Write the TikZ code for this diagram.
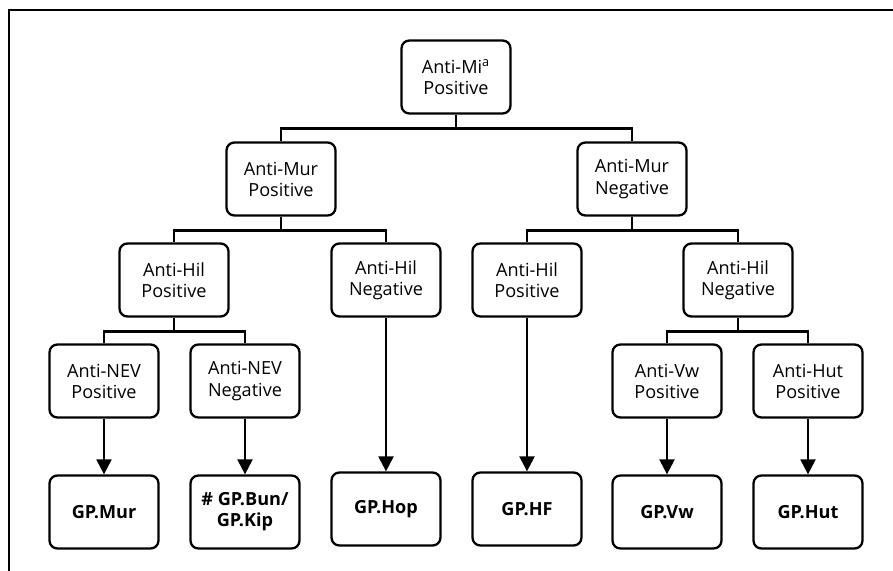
\documentclass[tikz,border=0pt]{standalone}
\usepackage{fontspec}
\setmainfont{Open Sans}
\usetikzlibrary{arrows.meta}

\tikzset{
  testbox/.style={draw, line width=1.3pt, rounded corners=4.5pt, align=center,
    minimum width=2.18cm, minimum height=1.46cm, inner sep=2pt,
    font=\fontsize{10.3}{12}\selectfont},
  gpbox/.style={testbox, font=\fontsize{10.3}{12}\selectfont\bfseries},
  link/.style={line width=1.3pt},
  arrow/.style={line width=1.3pt, -{Triangle[width=8.5pt,length=8.5pt]}}
}

\begin{document}
\begin{tikzpicture}[x=0.02cm,y=-0.02cm]

  \useasboundingbox (0,0) rectangle (893,571);
  \draw[line width=0.9pt] (893,10) -- (9,10) -- (9,571);

  \node[testbox] (root) at (456,77) {Anti-Mi\textsuperscript{a}\\Positive};

  \node[testbox] (murpos) at (281,179) {Anti-Mur\\Positive};
  \node[testbox] (murneg) at (632,179) {Anti-Mur\\Negative};

  \node[testbox] (hilposa) at (174,280) {Anti-Hil\\Positive};
  \node[testbox] (hilnega) at (386,280) {Anti-Hil\\Negative};
  \node[testbox] (hilposb) at (527,280) {Anti-Hil\\Positive};
  \node[testbox] (hilnegb) at (738,280) {Anti-Hil\\Negative};

  \node[testbox] (nevpos) at (104,381) {Anti-NEV\\Positive};
  \node[testbox] (nevneg) at (245,381) {Anti-NEV\\Negative};
  \node[testbox] (vwpos) at (667,381) {Anti-Vw\\Positive};
  \node[testbox] (hutpos) at (808,381) {Anti-Hut\\Positive};

  \node[gpbox] (gpmur) at (104,512) {GP.Mur};
  \node[gpbox] (gpbun) at (245,512) {\# GP.Bun/\\GP.Kip};
  \node[gpbox] (gphop) at (386,509) {GP.Hop};
  \node[gpbox] (gphf) at (527,509) {GP.HF};
  \node[gpbox] (gpvw) at (667,512) {GP.Vw};
  \node[gpbox] (gphut) at (808,512) {GP.Hut};

  % tree links
  \draw[link] (root.south) -- ++(0,14) -| (murpos.north);
  \draw[link] (root.south) -- ++(0,14) -| (murneg.north);
  \draw[link] (murpos.south) -- ++(0,14) -| (hilposa.north);
  \draw[link] (murpos.south) -- ++(0,14) -| (hilnega.north);
  \draw[link] (murneg.south) -- ++(0,14) -| (hilposb.north);
  \draw[link] (murneg.south) -- ++(0,14) -| (hilnegb.north);
  \draw[link] (hilposa.south) -- ++(0,14) -| (nevpos.north);
  \draw[link] (hilposa.south) -- ++(0,14) -| (nevneg.north);
  \draw[link] (hilnegb.south) -- ++(0,14) -| (vwpos.north);
  \draw[link] (hilnegb.south) -- ++(0,14) -| (hutpos.north);

  % results
  \draw[arrow] (nevpos) -- (gpmur);
  \draw[arrow] (nevneg) -- (gpbun);
  \draw[arrow] (hilnega) -- (gphop);
  \draw[arrow] (hilposb) -- (gphf);
  \draw[arrow] (vwpos) -- (gpvw);
  \draw[arrow] (hutpos) -- (gphut);

\end{tikzpicture}
\end{document}
